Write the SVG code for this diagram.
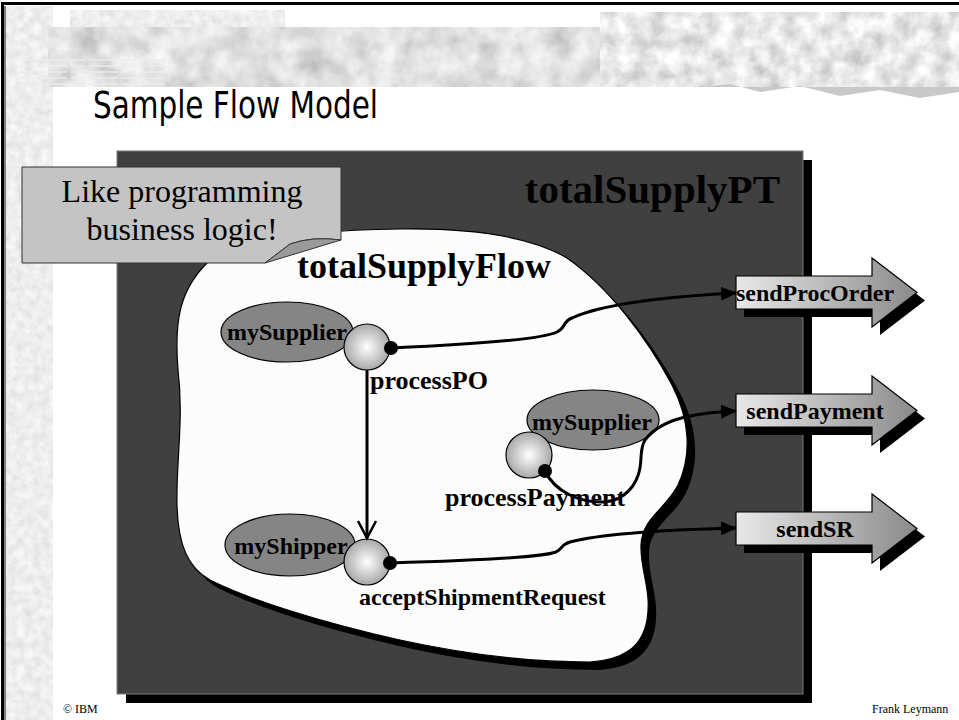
<svg xmlns="http://www.w3.org/2000/svg" width="959" height="720" viewBox="0 0 959 720">
<defs>
<style>
.lbl{font-family:"Liberation Serif","Times New Roman",serif;font-weight:bold;font-size:24px;fill:#000}
.lbl26{font-size:26px}
.conn{fill:none;stroke:#000;stroke-width:3}
.ell{fill:#858585;stroke:#000;stroke-width:1.2}
.act{fill:url(#ball);stroke:#000;stroke-width:1.2}
.port{fill:#000}
.abox{fill:url(#agrad);stroke:#000;stroke-width:1.2}
.ashadow{fill:#000}
</style>
<radialGradient id="ball" cx="0.5" cy="0.5" r="0.5"><stop offset="0" stop-color="#ffffff"/><stop offset="1" stop-color="#a8a8a8"/></radialGradient>
<linearGradient id="agrad" x1="0" y1="0" x2="1" y2="0"><stop offset="0" stop-color="#e8e8e8"/><stop offset="1" stop-color="#8a8a8a"/></linearGradient>
<marker id="tri" markerWidth="16" markerHeight="14" refX="15" refY="7" orient="auto" markerUnits="userSpaceOnUse"><path d="M0,0 L16,7 L0,14 Z" fill="#000"/></marker>
<marker id="vee" markerWidth="24" markerHeight="20" refX="18" refY="10" orient="auto" markerUnits="userSpaceOnUse"><path d="M1,1 L18,10 L1,19" fill="none" stroke="#000" stroke-width="2.5"/></marker>
<path id="sendArrow" d="M0,-16.5 H136 V-34.5 L181,0 L136,34.5 V16.5 H0 Z"/>
<filter id="texLight" x="0" y="0" width="100%" height="100%">
<feTurbulence type="fractalNoise" baseFrequency="0.12" numOctaves="3" seed="4" result="n"/>
<feColorMatrix in="n" type="matrix" values="0.3 0 0 0 0.7  0.3 0 0 0 0.7  0.3 0 0 0 0.7  0 0 0 0 1"/>
</filter>
<filter id="texMid" x="0" y="0" width="100%" height="100%">
<feTurbulence type="fractalNoise" baseFrequency="0.04" numOctaves="4" seed="9" result="n"/>
<feColorMatrix in="n" type="matrix" values="0.6 0 0 0 0.45  0.6 0 0 0 0.45  0.6 0 0 0 0.45  0 0 0 0 1"/>
</filter>
<filter id="texRock" x="0" y="0" width="100%" height="100%">
<feTurbulence type="fractalNoise" baseFrequency="0.06" numOctaves="4" seed="2" result="n"/>
<feColorMatrix in="n" type="matrix" values="0.7 0 0 0 0.45  0.7 0 0 0 0.45  0.7 0 0 0 0.45  0 0 0 0 1"/>
</filter>
</defs>

<g id="background">
<rect x="0" y="0" width="959" height="720" fill="#ffffff"/>
<rect x="6" y="6" width="47" height="714" fill="#ddd" filter="url(#texLight)"/>
<rect x="70" y="10" width="215" height="17" fill="#ddd" filter="url(#texLight)"/>
<rect x="48" y="27" width="282" height="60" fill="#bbb" filter="url(#texMid)"/>
<rect x="330" y="27" width="270" height="60" fill="#bbb" filter="url(#texMid)"/>
<rect x="600" y="12" width="359" height="75" fill="#ddd" filter="url(#texRock)"/>
<path d="M700,87 L730,84 L760,92 L800,86 L840,96 L880,90 L920,98 L959,92 L959,87 Z" fill="#c8c8c8"/>
<g stroke="#ececec" stroke-width="1.5" stroke-dasharray="14 3 30 4">
<line x1="20" y1="60" x2="165" y2="60"/>
<line x1="20" y1="66" x2="165" y2="66"/>
<line x1="20" y1="72" x2="165" y2="72"/>
<line x1="20" y1="78" x2="165" y2="78"/>
<line x1="20" y1="84" x2="165" y2="84"/>
</g>
<path d="M2.5,720 V3.5 H959" fill="none" stroke="#000" stroke-width="3"/>
<line x1="5" y1="6" x2="5" y2="720" stroke="#000" stroke-width="1"/>
</g>

<text id="title" x="93" y="118" font-family="'DejaVu Sans',sans-serif" font-size="37" textLength="285" lengthAdjust="spacingAndGlyphs" fill="#000">Sample Flow Model</text>

<g id="totalSupplyPT">
<rect x="126" y="160" width="686" height="543" fill="#000"/>
<rect x="117" y="151" width="686" height="543" fill="#404040" stroke="#7a7a7a" stroke-width="1"/>
<text x="780" y="203" font-family="'Liberation Serif','Times New Roman',serif" font-weight="bold" font-size="41" text-anchor="end" fill="#000">totalSupplyPT</text>
</g>

<g id="totalSupplyFlow">
<path transform="translate(8,8)" fill="#000" d="M207,263 C235,238 310,230 400,229 C470,228 530,236 567,258 C610,288 648,340 672,385 C690,420 692,455 678,485 C665,510 642,518 641,545 C640,570 652,590 647,620 C642,648 622,660 590,662 C520,662 455,652 400,640 C320,622 250,600 210,580 C188,568 178,545 177,505 C176,460 184,420 178,370 C174,320 180,290 207,263 Z"/>
<path fill="#fcfcfc" stroke="#000" stroke-width="1.2" d="M207,263 C235,238 310,230 400,229 C470,228 530,236 567,258 C610,288 648,340 672,385 C690,420 692,455 678,485 C665,510 642,518 641,545 C640,570 652,590 647,620 C642,648 622,660 590,662 C520,662 455,652 400,640 C320,622 250,600 210,580 C188,568 178,545 177,505 C176,460 184,420 178,370 C174,320 180,290 207,263 Z"/>
<text x="297" y="278" font-family="'Liberation Serif','Times New Roman',serif" font-weight="bold" font-size="36" fill="#000">totalSupplyFlow</text>
</g>

<g id="callout">
<path d="M22,167 H341 V240 Q312,236 290,244 L265,263 H22 Z" fill="#c4c4c4" stroke="#333" stroke-width="1"/>
<path d="M265,263 L290,244 Q313,236 341,240 Z" fill="#9a9a9a" stroke="#333" stroke-width="1"/>
<text font-family="'Liberation Serif','Times New Roman',serif" font-size="32" text-anchor="middle" fill="#000"><tspan x="182" y="202">Like programming</tspan><tspan x="182" y="240">business logic!</tspan></text>
</g>

<g id="sendProcOrder">
<use href="#sendArrow" class="ashadow" transform="translate(744,300.5)"/>
<use href="#sendArrow" class="abox" transform="translate(736,292.5)"/>
<text class="lbl" x="815" y="301" text-anchor="middle">sendProcOrder</text>
</g>
<g id="sendPayment">
<use href="#sendArrow" class="ashadow" transform="translate(744,418.5)"/>
<use href="#sendArrow" class="abox" transform="translate(736,410.5)"/>
<text class="lbl" x="815" y="419" text-anchor="middle">sendPayment</text>
</g>
<g id="sendSR">
<use href="#sendArrow" class="ashadow" transform="translate(744,536.5)"/>
<use href="#sendArrow" class="abox" transform="translate(736,528.5)"/>
<text class="lbl" x="815" y="537" text-anchor="middle">sendSR</text>
</g>

<g id="processPO">
<ellipse class="ell" cx="287" cy="332" rx="66" ry="30"/>
<text class="lbl" x="287" y="340" text-anchor="middle">mySupplier</text>
<circle class="act" cx="367" cy="347" r="23"/>
<text class="lbl lbl26" x="370" y="389">processPO</text>
</g>

<g id="processPayment">
<ellipse class="ell" cx="593" cy="420" rx="66" ry="30"/>
<text class="lbl" x="592" y="430" text-anchor="middle">mySupplier</text>
<circle class="act" cx="529" cy="455" r="23"/>
<text class="lbl lbl26" x="445" y="506">processPayment</text>
</g>

<g id="acceptShipmentRequest">
<ellipse class="ell" cx="290" cy="545" rx="65" ry="31"/>
<text class="lbl" x="291" y="554" text-anchor="middle">myShipper</text>
<circle class="act" cx="367" cy="562" r="23"/>
<text class="lbl" x="359" y="605">acceptShipmentRequest</text>
</g>

<g id="connectors">
<path class="conn" marker-end="url(#vee)" d="M367,370 V538"/>
<path class="conn" marker-end="url(#tri)" d="M391,348 C460,345 540,340 557,332 C566,328 562,322 572,318 C600,305 660,297 736,293"/>
<path class="conn" marker-end="url(#tri)" d="M545,471 C555,492 580,503 605,502 C625,500 637,485 640,468 C642,455 640,448 645,440 C660,420 690,413 736,411"/>
<path class="conn" marker-end="url(#tri)" d="M390,563 C460,561 540,558 556,552 C563,549 560,545 570,542 C600,534 660,530 736,528"/>
<circle class="port" cx="391" cy="348" r="7"/>
<circle class="port" cx="545" cy="471" r="7"/>
<circle class="port" cx="390" cy="563" r="7"/>
</g>

<g id="footer" font-family="'Liberation Serif','Times New Roman',serif" font-size="12" fill="#000">
<text x="63" y="713">© IBM</text>
<text x="872" y="713">Frank Leymann</text>
</g>
</svg>
